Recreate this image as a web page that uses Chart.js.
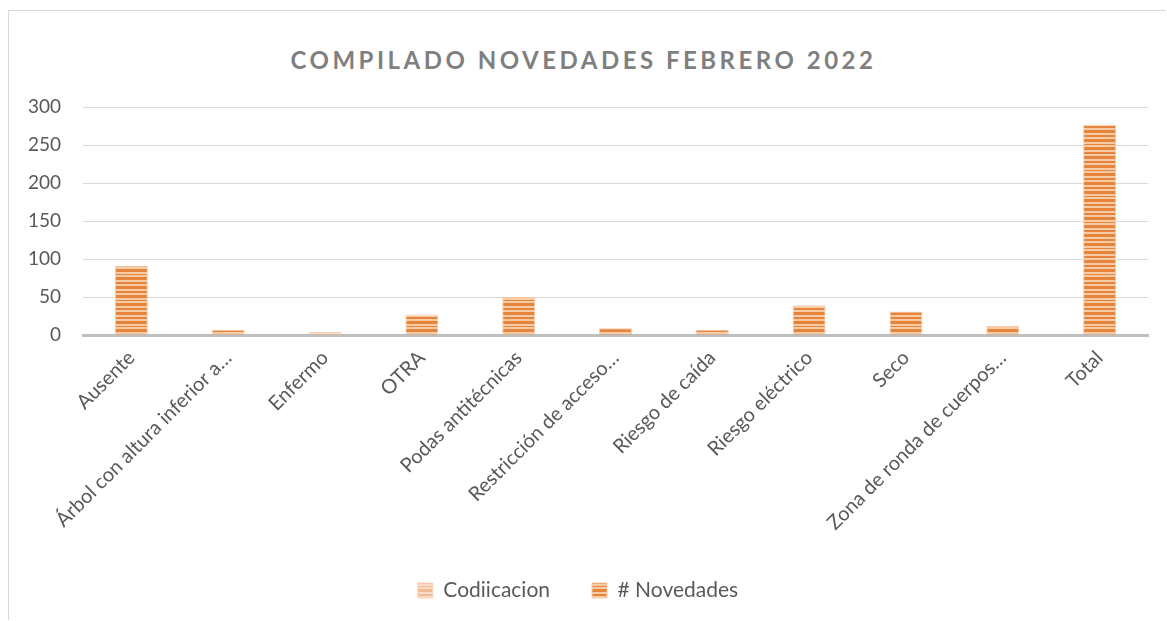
<!DOCTYPE html>
<html>
<head>
<meta charset="utf-8">
<script src="https://cdn.jsdelivr.net/npm/chart.js@4"></script>
<style>
  body { margin: 0; background: #fff; }
  #wrap { position: relative; width: 1167px; height: 621px; }
  #frame { position: absolute; left: 8px; top: 10px; width: 1158px; height: 610px; border-left: 1px solid #d9d9d9; border-top: 1px solid #d9d9d9; box-sizing: border-box; }
  #title { position: absolute; left: 0; width: 1167px; top: 45px; text-align: center;
    font-family: Lato, "Open Sans", sans-serif; font-weight: bold; font-size: 24px; letter-spacing: 3.5px; color: #7f7f7f; }
  canvas { position: absolute; left: 0; top: 0; }
</style>
</head>
<body>
<div id="wrap">
  <div id="frame"></div>
  <div id="title">COMPILADO NOVEDADES FEBRERO 2022</div>
  <canvas id="canvas" width="1167" height="621"></canvas>
</div>
<script>
// data
const categories = ["Ausente", "Árbol con altura inferior a…", "Enfermo", "OTRA", "Podas antitécnicas",
  "Restricción de acceso…", "Riesgo de caída", "Riesgo eléctrico", "Seco", "Zona de ronda de cuerpos…", "Total"];
const codificacion = [0, 0, 4, 0, 0, 0, 0, 0, 0, 0, 0];
const novedades = [91, 7, 0, 27, 50, 9, 7, 39, 31, 12, 277];
const yTicks = [0, 50, 100, 150, 200, 250, 300];

// striped fill like the excel pattern
function stripes(dark, light) {
  const c = document.createElement("canvas");
  c.width = 8; c.height = 26;
  const g = c.getContext("2d");
  g.fillStyle = light; g.fillRect(0, 0, 8, 26);
  g.fillStyle = dark;
  [[0, 3], [5, 2], [9, 3], [14, 1], [17, 3], [22, 2]].forEach(function (s) {
    g.fillRect(0, s[0], 8, s[1]);
  });
  return g.createPattern(c, "repeat");
}
const ctx = document.getElementById("canvas").getContext("2d");
const darkFill = stripes("#e5843a", "#f6cba6");
const lightFill = stripes("#f6b996", "#fbdcc7");

const font = "Lato, 'Open Sans', sans-serif";

const config = {
  type: "bar",
  data: {
    labels: categories,
    datasets: [
      {
        label: "Codiicacion",
        data: codificacion,
        backgroundColor: lightFill,
        borderColor: "#fad3bb",
        borderWidth: 1,
        barPercentage: 0.34,
        categoryPercentage: 1,
      },
      {
        label: "# Novedades",
        data: novedades,
        backgroundColor: darkFill,
        borderColor: "#f8c9a9",
        borderWidth: 1,
        barPercentage: 0.34,
        categoryPercentage: 1,
      },
    ],
  },
  options: {
    responsive: false,
    animation: false,
    layout: { padding: { top: 107, right: 19, bottom: 10, left: 8 } },
    plugins: {
      title: { display: false },
      tooltip: { enabled: false },
      legend: {
        position: "bottom",
        labels: {
          color: "#595959",
          font: { family: font, size: 21 },
          boxWidth: 15,
          boxHeight: 15,
          padding: 42,
        },
      },
    },
    scales: {
      x: {
        stacked: true,
        grid: { display: false },
        border: { color: "#bfbfbf", width: 3 },
        ticks: {
          color: "#595959",
          font: { family: font, size: 20 },
          minRotation: 45,
          maxRotation: 45,
          autoSkip: false,
        },
        afterFit: function (s) { s.height = 203; },
      },
      y: {
        stacked: true,
        min: 0,
        max: 300,
        afterBuildTicks: function (s) { s.ticks = yTicks.map(function (v) { return { value: v }; }); },
        grid: { color: "#d9d9d9", lineWidth: 1, drawTicks: false },
        border: { display: false },
        ticks: {
          color: "#595959",
          font: { family: font, size: 19 },
          padding: 22,
        },
        afterFit: function (s) { s.width = 75; },
      },
    },
  },
};

// render init block
const myChart = new Chart(ctx, config);
</script>
</body>
</html>
